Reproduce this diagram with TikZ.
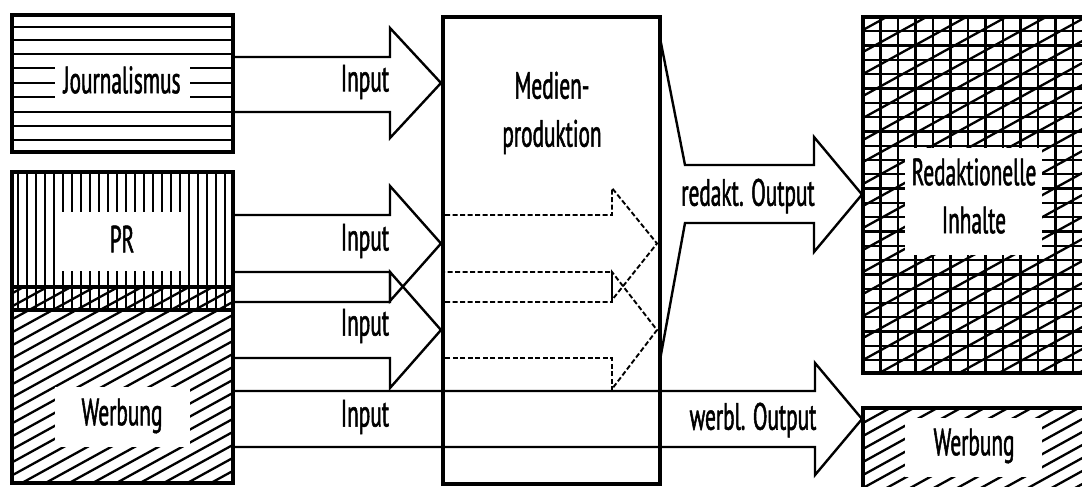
\documentclass[tikz,border=0pt]{standalone}
\usepackage{fontspec}
\setmainfont{PT Sans}[FakeStretch=0.56, FakeBold=1.3]
\begin{document}
\begin{tikzpicture}[x=1pt,y=-1pt,
  frame/.style={line width=3.6pt},
  hatch/.style={line width=2.3pt},
  blockarrow/.style={line width=2.4pt, line join=miter},
  dasharrow/.style={line width=1.9pt, dash pattern=on 5pt off 2.5pt, line join=miter},
  lbl/.style={font=\fontsize{38}{48}\selectfont, inner sep=0pt, align=center},
  gap/.style={fill=white, draw=none}]
\useasboundingbox (0,0) rectangle (1082,487);
\clip (0,0) rectangle (1082,487);

% ---------- Journalismus: horizontal lines ----------
\foreach \yy in {27,40,54,68,83,97,112,126,140}
  \draw[hatch] (12,\yy) -- (233,\yy);
\fill[gap] (55,58) rectangle (190,107);
\node[lbl] (journ) at (122,80) {Journalismus};
\draw[frame] (12,15) rectangle (233,152);

% ---------- PR: vertical lines, band with diagonals, Werbung ----------
\foreach \xx in {18,27,...,229}
  \draw[hatch] (\xx,172) -- (\xx,310);
\begin{scope}
  \clip (12,287) rectangle (233,483);
  \foreach \cc in {287,300,...,620}
    \draw[hatch] (0,\cc) -- (240,\cc-132);
\end{scope}
\fill[gap] (62,212) rectangle (187,271);
\fill[gap] (55,387) rectangle (190,447);
\node[lbl] (pr) at (122,239) {PR};
\node[lbl] (werbL) at (122,416) {Werbung};
\draw[frame] (12,172) rectangle (233,483);
\draw[frame] (12,287) -- (233,287);
\draw[frame] (12,310) -- (233,310);

% ---------- Medienproduktion ----------
\draw[frame] (443,17) rectangle (660,484);
\node[lbl] (medien) at (552,113) {Medien-\\produktion};

% ---------- Redaktionelle Inhalte: grid with diagonals ----------
\begin{scope}
  \clip (863,17) rectangle (1095,373);
  \foreach \xx in {880.5,898,...,1090}
    \draw[hatch] (\xx,17) -- (\xx,373);
  \foreach \yy in {31.3,45.6,...,372}
    \draw[hatch] (863,\yy) -- (1095,\yy);
  \foreach \cc in {30,52,...,520}
    \draw[hatch] (863,\cc) -- (1095,\cc-128);
\end{scope}
\fill[gap] (905,148) rectangle (1042,255);
\node[lbl] (redin) at (974,196) {Redaktionelle\\Inhalte};
\draw[frame] (863,17) rectangle (1095,373);

% ---------- Werbung (right) ----------
\begin{scope}
  \clip (863,408) rectangle (1095,495);
  \foreach \cc in {410,423,...,640}
    \draw[hatch] (863,\cc) -- (1095,\cc-128);
\end{scope}
\fill[gap] (905,418) rectangle (1042,477);
\node[lbl] (werbR) at (974,446) {Werbung};
\draw[frame] (863,408) rectangle (1095,495);

% ---------- input arrows ----------
\draw[blockarrow] (233,57) -- (390,57) -- (390,28) -- (441,83) -- (390,138) -- (390,112) -- (233,112);
\draw[blockarrow] (233,215) -- (390,215) -- (390,186) -- (441,243.5) -- (390,301) -- (390,272) -- (233,272);
\draw[blockarrow] (233,302) -- (390,302) -- (390,272) -- (441,330) -- (390,388) -- (390,358) -- (233,358);
\draw[blockarrow] (233,391) -- (815,391) -- (815,363) -- (862,419) -- (815,475) -- (815,447) -- (233,447);

\node[lbl] (in1) at (365,82) {Input};
\node[lbl] (in2) at (365,241) {Input};
\node[lbl] (in3) at (365,326) {Input};
\node[lbl] (in4) at (365,417) {Input};

% ---------- dashed arrows inside the production box ----------
\draw[dasharrow] (445,215) -- (612,215) -- (612,188) -- (657,243.5) -- (612,300) -- (612,272) -- (445,272);
\draw[dasharrow] (445,302) -- (612,302) -- (612,272) -- (657,330) -- (612,389);
\draw[dasharrow] (612,391) -- (612,358) -- (445,358);

% ---------- redaktioneller Output ----------
\draw[blockarrow] (660,38) -- (685,165) -- (814,165) -- (814,137) -- (862,194.5) -- (814,252) -- (814,223) -- (685,223) -- (660,360);
\node[lbl] (outR) at (748,196) {redakt. Output};
\node[lbl] (outW) at (753,420) {werbl. Output};
\end{tikzpicture}
\end{document}
